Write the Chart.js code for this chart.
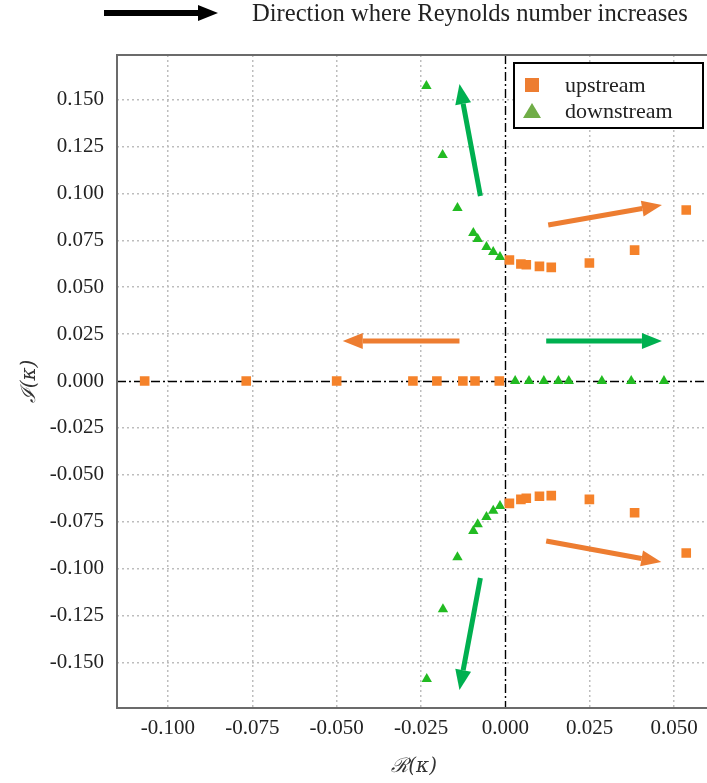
<!DOCTYPE html>
<html>
<head>
<meta charset="utf-8">
<script src="https://cdn.jsdelivr.net/npm/chart.js@4.4.1/dist/chart.umd.min.js"></script>
<style>
  html, body { margin: 0; padding: 0; background: #fff; }
  #wrap { position: relative; width: 707px; height: 783px; overflow: hidden; }
  #header { position: absolute; left: 0; top: 0; width: 707px; height: 40px; }
  #arrow-bar { position: absolute; left: 104px; top: 10px; width: 96px; height: 6px; background: #000; }
  #arrow-head { position: absolute; left: 198px; top: 5px; width: 0; height: 0;
    border-top: 8px solid transparent; border-bottom: 8px solid transparent; border-left: 20px solid #000; }
  #header-text { position: absolute; left: 252px; top: -1px; font-family: "Liberation Serif", serif;
    font-size: 24.6px; color: #222; white-space: nowrap; }
  canvas { position: absolute; left: 0; top: 0; }
</style>
</head>
<body>
<div id="wrap">
  <canvas id="chart" width="718" height="783"></canvas>
  <div id="header">
    <div id="arrow-bar"></div>
    <div id="arrow-head"></div>
    <span id="header-text">Direction where Reynolds number increases</span>
  </div>
</div>
<script>
// upstream roots: real axis, upper branch, lower branch
const upstreamRe = [-0.1069, -0.0768, -0.0500, -0.0274, -0.0203, -0.0126, -0.0090, -0.0018,
  0.0012, 0.0046, 0.0062, 0.0101, 0.0136, 0.0249, 0.0383, 0.0536,
  0.0012, 0.0046, 0.0062, 0.0101, 0.0136, 0.0249, 0.0383, 0.0536];
const upstreamIm = [0, 0, 0, 0, 0, 0, 0, 0,
  0.0645, 0.0624, 0.0620, 0.0611, 0.0606, 0.0629, 0.0698, 0.0912,
  -0.0652, -0.0631, -0.0625, -0.0614, -0.0611, -0.0631, -0.0702, -0.0917];

// downstream roots
const downstreamRe = [0.0029, 0.0070, 0.0114, 0.0157, 0.0188, 0.0286, 0.0373, 0.0470,
  -0.0234, -0.0186, -0.0142, -0.0095, -0.0082, -0.0056, -0.0036, -0.0016,
  -0.0233, -0.0185, -0.0142, -0.0095, -0.0082, -0.0056, -0.0036, -0.0016];
const downstreamIm = [0, 0, 0, 0, 0, 0, 0, 0,
  0.1573, 0.1205, 0.0922, 0.0789, 0.0757, 0.0714, 0.0688, 0.0661,
  -0.1588, -0.1217, -0.0940, -0.0800, -0.0764, -0.0725, -0.0691, -0.0666];

const xTicks = [-0.100, -0.075, -0.050, -0.025, 0.000, 0.025, 0.050];
const yTicks = [-0.150, -0.125, -0.100, -0.075, -0.050, -0.025, 0.000, 0.025, 0.050, 0.075, 0.100, 0.125, 0.150];

// direction arrows, [tailRe, tailIm, tipRe, tipIm, colour]
const arrows = [
  [-0.0074, 0.0986, -0.0136, 0.1583, "#00b050"],
  [0.0127, 0.0832, 0.0464, 0.0938, "#ed7d31"],
  [-0.0136, 0.0213, -0.0482, 0.0213, "#ed7d31"],
  [0.0121, 0.0213, 0.0464, 0.0213, "#00b050"],
  [0.0121, -0.0853, 0.0462, -0.0965, "#ed7d31"],
  [-0.0074, -0.1050, -0.0136, -0.1647, "#00b050"]
];

const toPoints = (re, im) => re.map((v, i) => ({ x: v, y: im[i] }));
const serif = "'Liberation Serif', 'Times New Roman', serif";

// frame, zero lines and arrows drawn on top of the grid
const decorPlugin = {
  id: "decor",
  beforeDatasetsDraw(chart) {
    const { ctx, chartArea: a, scales: { x, y } } = chart;
    ctx.save();
    ctx.strokeStyle = "#000";
    ctx.lineWidth = 1.4;
    ctx.setLineDash([9, 3, 2, 3]);
    const x0 = Math.round(x.getPixelForValue(0)) + 0.5;
    const y0 = Math.round(y.getPixelForValue(0)) + 0.5;
    ctx.beginPath();
    ctx.moveTo(x0, a.top); ctx.lineTo(x0, a.bottom);
    ctx.moveTo(a.left, y0); ctx.lineTo(a.right, y0);
    ctx.stroke();
    ctx.setLineDash([]);
    ctx.strokeStyle = "#6b6b6b";
    ctx.lineWidth = 2;
    ctx.strokeRect(a.left, a.top, a.right - a.left, a.bottom - a.top);
    ctx.restore();
  },
  afterDatasetsDraw(chart) {
    const { ctx, scales: { x, y } } = chart;
    ctx.save();
    arrows.forEach(([r0, i0, r1, i1, col]) => {
      const x1 = x.getPixelForValue(r0), y1 = y.getPixelForValue(i0);
      const x2 = x.getPixelForValue(r1), y2 = y.getPixelForValue(i1);
      const ang = Math.atan2(y2 - y1, x2 - x1);
      const headLen = 20, headW = 8;
      const bx = x2 - headLen * Math.cos(ang), by = y2 - headLen * Math.sin(ang);
      ctx.strokeStyle = col;
      ctx.fillStyle = col;
      ctx.lineWidth = 5;
      ctx.beginPath();
      ctx.moveTo(x1, y1); ctx.lineTo(bx, by);
      ctx.stroke();
      ctx.beginPath();
      ctx.moveTo(x2, y2);
      ctx.lineTo(bx + headW * Math.sin(ang), by - headW * Math.cos(ang));
      ctx.lineTo(bx - headW * Math.sin(ang), by + headW * Math.cos(ang));
      ctx.closePath();
      ctx.fill();
    });

    // legend box
    const lx = 514, ly = 63, lw = 189, lh = 65;
    ctx.fillStyle = "#fff";
    ctx.fillRect(lx, ly, lw, lh);
    ctx.strokeStyle = "#000";
    ctx.lineWidth = 2;
    ctx.strokeRect(lx, ly, lw, lh);
    const swatches = ["#ed7d31", "#70ad47"];
    chart.data.datasets.forEach((ds, i) => {
      const cy = ly + 22 + i * 26;
      ctx.fillStyle = swatches[i];
      ctx.beginPath();
      if (i === 0) {
        ctx.rect(525, cy - 7, 14, 14);
      } else {
        ctx.moveTo(532, cy - 8); ctx.lineTo(541, cy + 7); ctx.lineTo(523, cy + 7); ctx.closePath();
      }
      ctx.fill();
      ctx.fillStyle = "#222";
      ctx.font = "22px " + serif;
      ctx.textBaseline = "middle";
      ctx.fillText(ds.label, 565, cy + 1);
    });
    ctx.restore();
  }
};

new Chart(document.getElementById("chart"), {
  type: "scatter",
  data: {
    datasets: [
      {
        label: "upstream",
        data: toPoints(upstreamRe, upstreamIm),
        pointStyle: "rect",
        pointRadius: 6.8,
        pointHoverRadius: 6.8,
        backgroundColor: "#f5822a",
        borderColor: "#f5822a",
        borderWidth: 0
      },
      {
        label: "downstream",
        data: toPoints(downstreamRe, downstreamIm),
        pointStyle: "triangle",
        pointRadius: 6,
        pointHoverRadius: 6,
        backgroundColor: "#22bb22",
        borderColor: "#22bb22",
        borderWidth: 0
      }
    ]
  },
  options: {
    responsive: false,
    animation: false,
    layout: { padding: { top: 55, right: 0, left: 0, bottom: 0 } },
    plugins: { legend: { display: false }, tooltip: { enabled: false } },
    scales: {
      x: {
        type: "linear",
        min: -0.1151,
        max: 0.0610,
        afterBuildTicks: (s) => { s.ticks = xTicks.map((v) => ({ value: v })); },
        afterFit: (s) => { s.height = 75; },
        grid: {
          color: (c) => (c.tick && c.tick.value === 0 ? "rgba(0,0,0,0)" : "#bdbdbd"),
          lineWidth: 1.5,
          drawTicks: false
        },
        border: { display: false, dash: [2, 3] },
        ticks: {
          padding: 8,
          color: "#222",
          font: { family: serif, size: 21 },
          callback: (v) => v.toFixed(3)
        },
        title: {
          display: true,
          text: "ℛ(κ)",
          color: "#333",
          font: { family: "'DejaVu Serif', serif", size: 20, style: "italic" },
          padding: { top: 4 }
        }
      },
      y: {
        type: "linear",
        min: -0.1743,
        max: 0.1738,
        afterBuildTicks: (s) => { s.ticks = yTicks.map((v) => ({ value: v })); },
        afterFit: (s) => { s.width = 117; },
        grid: {
          color: (c) => (c.tick && c.tick.value === 0 ? "rgba(0,0,0,0)" : "#bdbdbd"),
          lineWidth: 1.5,
          drawTicks: false
        },
        border: { display: false, dash: [2, 3] },
        ticks: {
          padding: 13,
          color: "#222",
          font: { family: serif, size: 21 },
          callback: (v) => v.toFixed(3)
        },
        title: {
          display: true,
          text: "ℐ(κ)",
          color: "#333",
          font: { family: "'DejaVu Serif', serif", size: 20, style: "italic" },
          padding: { top: 18, bottom: 0 }
        }
      }
    }
  },
  plugins: [decorPlugin]
});
</script>
</body>
</html>
